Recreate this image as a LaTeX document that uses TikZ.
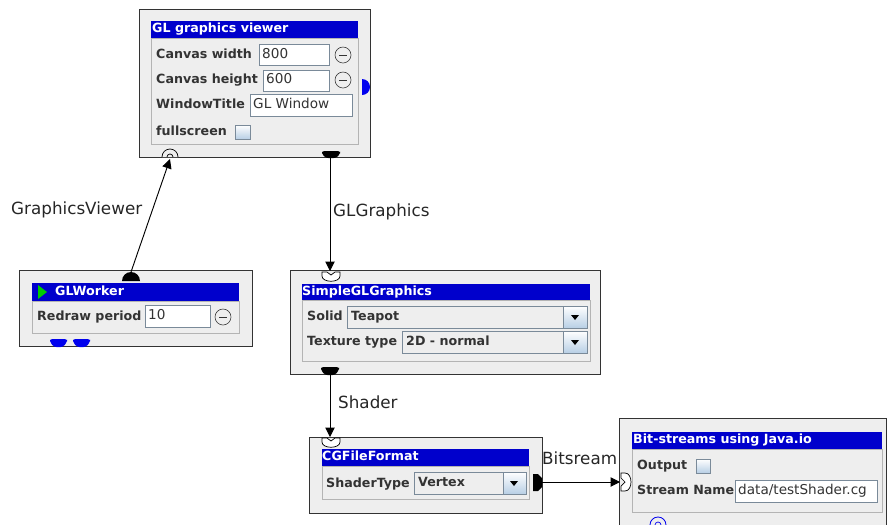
\documentclass[tikz,border=0pt]{standalone}
\usepackage{fontspec}
\setmainfont{DejaVu Sans}
\usetikzlibrary{arrows.meta}

\definecolor{nenhop}{HTML}{EEEEEE}
\definecolor{xanhtieude}{HTML}{0000CC}
\definecolor{vienkhung}{HTML}{B4B4B4}
\definecolor{vieno}{HTML}{7A8A99}
\definecolor{nutxanh}{HTML}{B8CFE5}
\definecolor{chuxam}{HTML}{333333}
\definecolor{congxanh}{HTML}{0000EE}
\definecolor{xanhla}{HTML}{00CC00}

\begin{document}
\begin{tikzpicture}[>={Triangle[length=8pt,width=8pt]}, x=0.03cm, y=-0.03cm,
    hop/.style={draw=black!80, fill=nenhop, line width=0.7pt},
    thanh/.style={fill=xanhtieude},
    khung/.style={draw=vienkhung, line width=0.6pt},
    o/.style={draw=vieno, fill=white, line width=0.6pt},
    hopchon/.style={draw=vieno, fill=nenhop, line width=0.6pt},
    nut/.style={draw=black!80, line width=0.5pt},
    tieude/.style={anchor=west, inner sep=0pt, text=white, text height=0.75em, text depth=0.2em,
        font=\fontsize{10.8}{13}\selectfont\bfseries},
    nhan/.style={anchor=west, inner sep=0pt, text=chuxam, text height=0.75em, text depth=0.2em,
        font=\fontsize{10.8}{13}\selectfont\bfseries},
    giatri/.style={anchor=west, inner sep=0pt, text=chuxam, text height=0.75em, text depth=0.2em,
        font=\fontsize{11.6}{14}\selectfont},
    chon/.style={anchor=west, inner sep=0pt, text=chuxam, text height=0.75em, text depth=0.2em,
        font=\fontsize{10.8}{13}\selectfont\bfseries},
    noi/.style={line width=0.8pt},
    nhannoi/.style={anchor=west, inner sep=0pt, text=black!85, text height=0.75em, text depth=0.2em,
        font=\fontsize{14.3}{17}\selectfont}]
    \useasboundingbox (0,0) rectangle (888,524);
    \clip (0,0) rectangle (888,524);

    % Hộp GL graphics viewer
    \draw[hop] (139,9) rectangle (370,157);
    \fill[thanh] (151,21) rectangle (358,38);
    \node[tieude] (tdViewer) at (152,29.5) {GL graphics viewer};
    \draw[khung] (151,38) rectangle (358,144);
    \node[nhan] (lbWidth) at (156,55) {Canvas width};
    \draw[o] (259,44) rectangle (329,65);
    \node[giatri] (vWidth) at (262,55) {800};
    \draw[nut] (343,55) circle (8);
    \draw[nut] (339,55) -- (347,55);
    \node[nhan] (lbHeight) at (156,80) {Canvas height};
    \draw[o] (263,70) rectangle (329,91);
    \node[giatri] (vHeight) at (266,80) {600};
    \draw[nut] (343,80) circle (8);
    \draw[nut] (339,80) -- (347,80);
    \node[nhan] (lbTitle) at (156,105) {WindowTitle};
    \draw[o] (250,94) rectangle (352,116);
    \node[giatri] (vTitle) at (253,105) {GL Window};
    \node[nhan] (lbFull) at (156,132) {fullscreen};
    \shade[top color=white, bottom color=nutxanh, draw=vieno, line width=0.6pt] (235,125) rectangle (250,139);
    % Cổng của GL graphics viewer
    \fill[congxanh] (362,79) arc (-90:90:8) -- cycle;
    \draw[fill=nenhop, line width=0.6pt] (162,157) arc (180:360:8);
    \draw[line width=0.6pt] (167,157) arc (180:360:3);
    \fill[rounded corners=2pt] (322,151) -- (340,151) -- (340,154) -- (336,158) -- (326,158) -- (322,154) -- cycle;

    % Hộp GLWorker
    \draw[hop] (19,270) rectangle (252,346);
    \fill[thanh] (32,283) rectangle (239,301);
    \fill[xanhla] (38,285) -- (47,292) -- (38,299) -- cycle;
    \node[tieude] (tdWorker) at (55,292) {GLWorker};
    \draw[khung] (32,301) rectangle (239,333);
    \node[nhan] (lbPeriod) at (37,317) {Redraw period};
    \draw[o] (145,305) rectangle (210,327);
    \node[giatri] (vPeriod) at (148,316) {10};
    \draw[nut] (223,317) circle (8);
    \draw[nut] (219,317) -- (227,317);
    \fill (122,281) arc (180:360:9) -- cycle;
    \foreach \x in {50,73}
        \fill[congxanh, rounded corners=2pt] (\x,339) -- (\x+17,339) -- (\x+17,342) -- (\x+13,347) -- (\x+4,347) -- (\x,342) -- cycle;

    % Hộp SimpleGLGraphics
    \draw[hop] (290,270) rectangle (600,374);
    \fill[thanh] (302,284) rectangle (590,300);
    \node[tieude] (tdSimple) at (302,292) {SimpleGLGraphics};
    \draw[khung] (302,300) rectangle (590,361);
    \node[nhan] (lbSolid) at (307,317) {Solid};
    \draw[hopchon] (347,306) rectangle (587,328);
    \shade[top color=white, bottom color=nutxanh, draw=vieno, line width=0.6pt] (563,306) rectangle (587,328);
    \fill (571,315) -- (579,315) -- (575,320) -- cycle;
    \node[chon] (vSolid) at (351,317) {Teapot};
    \node[nhan] (lbTexture) at (307,342) {Texture type};
    \draw[hopchon] (402,331) rectangle (587,353);
    \shade[top color=white, bottom color=nutxanh, draw=vieno, line width=0.6pt] (563,331) rectangle (587,353);
    \fill (571,340) -- (579,340) -- (575,345) -- cycle;
    \node[chon] (vTexture) at (406,342) {2D - normal};
    \draw[fill=white, line width=0.6pt] (322,272) -- (327,272) -- (331,275) -- (335,272) -- (340,272) -- (340,276)
        .. controls (340,283) and (322,283) .. (322,276) -- cycle;
    \fill[rounded corners=2pt] (321,367) -- (339,367) -- (339,370) -- (335,375) -- (325,375) -- (321,370) -- cycle;

    % Hộp CGFileFormat
    \draw[hop] (309,437) rectangle (542,513);
    \fill[thanh] (322,449) rectangle (529,466);
    \node[tieude] (tdCg) at (322,457.5) {CGFileFormat};
    \draw[khung] (322,466) rectangle (529,499);
    \node[nhan] (lbShader) at (326,484) {ShaderType};
    \draw[hopchon] (414,472) rectangle (526,494);
    \shade[top color=white, bottom color=nutxanh, draw=vieno, line width=0.6pt] (503,472) rectangle (526,494);
    \fill (510,481) -- (518,481) -- (514,486) -- cycle;
    \node[chon] (vShader) at (418,483) {Vertex};
    \draw[fill=white, line width=0.6pt] (322,438) -- (327,438) -- (331,441) -- (335,438) -- (340,438) -- (340,442)
        .. controls (340,449) and (322,449) .. (322,442) -- cycle;
    \fill (533,474) -- (538,474) -- (542,478) -- (542,487) -- (538,491) -- (533,491) -- cycle;

    % Hộp Bit-streams using Java.io
    \draw[hop] (619,418) rectangle (886,530);
    \fill[thanh] (632,432) rectangle (882,449);
    \node[tieude] (tdBits) at (633,440.5) {Bit-streams using Java.io};
    \draw[khung] (632,449) rectangle (882,512);
    \node[nhan] (lbOutput) at (637,466) {Output};
    \shade[top color=white, bottom color=nutxanh, draw=vieno, line width=0.6pt] (696,459) rectangle (710,473);
    \node[nhan] (lbStream) at (637,491) {Stream Name};
    \draw[o] (735,480) rectangle (877,502);
    \node[giatri] (vStream) at (738,491) {data/testShader.cg};
    \draw[fill=white, line width=0.6pt] (621,473) -- (621,478) -- (625,482) -- (621,486) -- (621,491) -- (625,491)
        .. controls (633,491) and (633,473) .. (625,473) -- cycle;
    \draw[congxanh, line width=0.7pt] (658,525) circle (8);
    \draw[congxanh, line width=0.6pt] (655,525) arc (180:360:3);

    % Các đường nối
    \coordinate (workerGV) at (131,272);
    \coordinate (viewerGV) at (170,159);
    \coordinate (viewerGL) at (330,158);
    \coordinate (simpleGL) at (330,271);
    \coordinate (simpleSh) at (330,375);
    \coordinate (cgfSh) at (330,437);
    \coordinate (cgfBits) at (542,482);
    \coordinate (bitsIn) at (620,482);
    \draw[->, noi] (workerGV) -- (viewerGV);
    \draw[->, noi] (viewerGL) -- (simpleGL);
    \draw[->, noi] (simpleSh) -- (cgfSh);
    \draw[->, noi] (cgfBits) -- (bitsIn);
    \node[nhannoi] (lnGV) at (11,211) {GraphicsViewer};
    \node[nhannoi] (lnGL) at (333,213) {GLGraphics};
    \node[nhannoi] (lnSh) at (338,405) {Shader};
    \node[nhannoi] (lnBits) at (542,461) {Bitsream};
\end{tikzpicture}
\end{document}
